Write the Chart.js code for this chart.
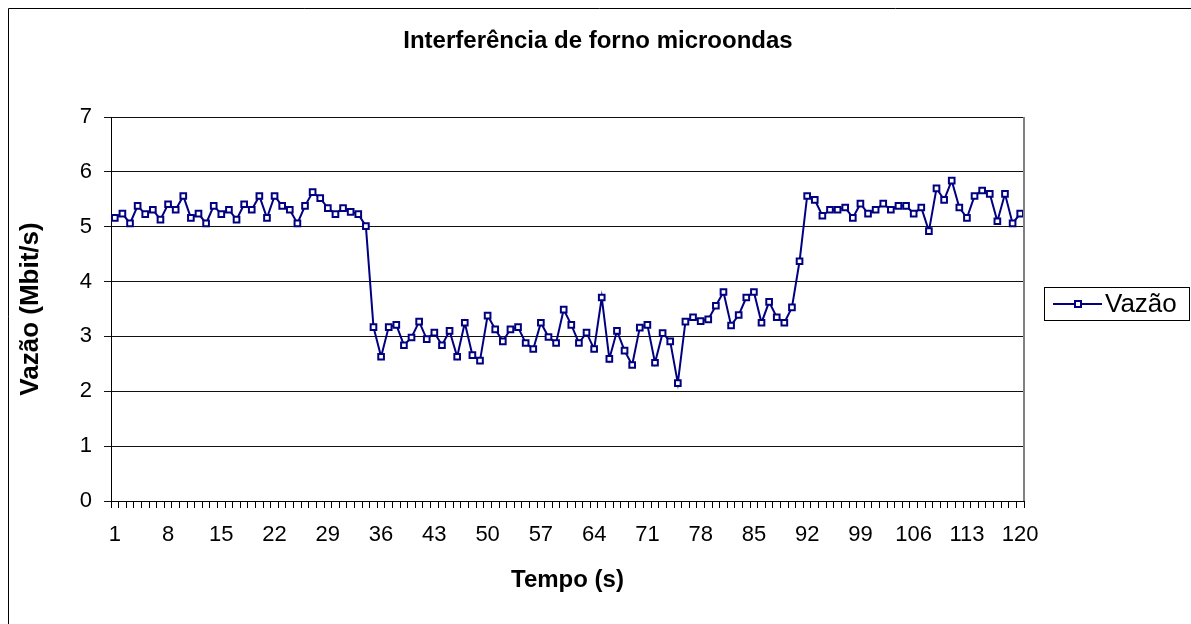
<!DOCTYPE html>
<html><head><meta charset="utf-8">
<script src="https://cdn.jsdelivr.net/npm/chart.js@4.4.1/dist/chart.umd.min.js"></script>
<style>html,body{margin:0;padding:0;background:#fff;} canvas{display:block;}</style>
</head><body>
<canvas id="c" width="1191" height="624"></canvas>
<script>
const chartTitle = "Interferência de forno microondas";
const seriesName = "Vazão";
const xAxisTitle = "Tempo (s)";
const yAxisTitle = "Vazão (Mbit/s)";

const categories = [1,2,3,4,5,6,7,8,9,10,11,12,13,14,15,16,17,18,19,20,
  21,22,23,24,25,26,27,28,29,30,31,32,33,34,35,36,37,38,39,40,
  41,42,43,44,45,46,47,48,49,50,51,52,53,54,55,56,57,58,59,60,
  61,62,63,64,65,66,67,68,69,70,71,72,73,74,75,76,77,78,79,80,
  81,82,83,84,85,86,87,88,89,90,91,92,93,94,95,96,97,98,99,100,
  101,102,103,104,105,106,107,108,109,110,111,112,113,114,115,116,117,118,119,120];

const vazao = [
  5.16,5.24,5.06,5.38,5.23,5.31,5.13,5.41,5.31,5.56,
  5.16,5.24,5.06,5.38,5.23,5.31,5.13,5.41,5.31,5.56,
  5.16,5.56,5.38,5.31,5.06,5.38,5.63,5.52,5.34,5.23,
  5.34,5.27,5.23,5.01,
  3.17,2.63,3.17,3.21,2.84,2.98,3.27,2.95,3.07,2.84,
  3.10,2.63,3.25,2.66,2.56,3.38,3.13,2.91,3.13,3.17,
  2.88,2.77,3.25,2.99,2.88,3.49,3.21,2.88,3.07,2.77,
  3.71,2.59,3.10,2.74,2.48,3.16,3.21,2.52,3.06,2.91,
  2.15,3.27,3.35,3.28,3.31,3.56,3.81,3.20,3.39,3.71,
  3.81,3.25,3.63,3.35,3.25,3.53,4.37,
  5.56,5.49,5.20,5.31,5.31,5.35,5.16,5.42,5.24,5.31,
  5.42,5.31,5.38,5.38,5.24,5.35,4.92,5.70,5.49,5.84,
  5.35,5.16,5.56,5.66,5.60,5.10,5.60,5.06,5.24
];

const xTickLabels = ["1","8","15","22","29","36","43","50","57","64","71","78","85","92","99","106","113","120"];
const yMin = 0, yMax = 7, yStep = 1;

const FONT = "'Liberation Sans', Arial, sans-serif";
const NAVY = '#000080';

const decor = {
  id: 'decor',
  afterDraw(chart) {
    const ctx = chart.ctx;
    const a = chart.chartArea;
    ctx.save();
    // outer frame
    ctx.strokeStyle = '#000';
    ctx.lineWidth = 1;
    ctx.beginPath();
    ctx.moveTo(8.5, 624);
    ctx.lineTo(8.5, 8.5);
    ctx.lineTo(1191, 8.5);
    ctx.stroke();
    // plot right border
    ctx.strokeStyle = '#808080';
    ctx.lineWidth = 2;
    ctx.beginPath();
    ctx.moveTo(a.right, a.top);
    ctx.lineTo(a.right, a.bottom);
    ctx.stroke();
    // title
    ctx.fillStyle = '#000';
    ctx.font = 'bold 24px ' + FONT;
    ctx.textAlign = 'center';
    ctx.textBaseline = 'middle';
    ctx.fillText(chartTitle, 598, 41);
    // legend
    const lx = 1044, ly = 287, lw = 145, lh = 33;
    ctx.strokeStyle = '#000';
    ctx.lineWidth = 1;
    ctx.strokeRect(lx + 0.5, ly + 0.5, lw, lh);
    const cy = ly + lh / 2 + 0.5;
    ctx.strokeStyle = NAVY;
    ctx.lineWidth = 2;
    ctx.beginPath();
    ctx.moveTo(lx + 9, cy);
    ctx.lineTo(lx + 58, cy);
    ctx.stroke();
    ctx.fillStyle = '#fff';
    ctx.lineWidth = 2;
    ctx.fillRect(lx + 31, cy - 3, 6, 6);
    ctx.strokeRect(lx + 31, cy - 3, 6, 6);
    ctx.fillStyle = '#000';
    ctx.font = '26px ' + FONT;
    ctx.textAlign = 'left';
    ctx.fillText(seriesName, lx + 61, cy + 1);
    ctx.restore();
  }
};

new Chart(document.getElementById('c'), {
  type: 'line',
  data: {
    labels: categories.map(String),
    datasets: [{
      label: seriesName,
      data: vazao,
      borderColor: NAVY,
      borderWidth: 2,
      tension: 0,
      pointStyle: 'rect',
      pointRadius: 4,
      pointBorderWidth: 2,
      pointBorderColor: NAVY,
      pointBackgroundColor: '#fff',
      fill: false
    }]
  },
  options: {
    responsive: false,
    animation: false,
    devicePixelRatio: 1,
    events: [],
    layout: { padding: { top: 117, right: 167, bottom: 0, left: 0 } },
    plugins: { legend: { display: false }, title: { display: false }, tooltip: { enabled: false } },
    scales: {
      x: {
        type: 'category',
        offset: true,
        grid: { display: true, offset: true, drawOnChartArea: false, drawTicks: true, tickLength: 7, color: '#000', lineWidth: 1 },
        border: { display: true, color: '#000', width: 1 },
        ticks: {
          autoSkip: false, maxRotation: 0, minRotation: 0, padding: 14,
          color: '#000', font: { family: FONT, size: 22 },
          callback: function(val, idx) {
            const l = String(categories[idx]);
            return xTickLabels.includes(l) ? l : '';
          }
        },
        title: { display: true, text: xAxisTitle, color: '#000', font: { family: FONT, size: 24, weight: 'bold' }, padding: { top: 0, bottom: 29 } },
        afterFit(scale) { scale.height = 123; }
      },
      y: {
        min: yMin, max: yMax,
        grid: { color: '#111', lineWidth: 1, tickLength: 7, drawTicks: true },
        border: { display: true, color: '#000', width: 1 },
        ticks: { stepSize: yStep, padding: 12, color: '#000', font: { family: FONT, size: 22 } },
        title: { display: true, text: yAxisTitle, color: '#000', font: { family: FONT, size: 26, weight: 'bold' }, padding: { top: 15, bottom: 0 } },
        afterFit(scale) { scale.width = 111; }
      }
    }
  },
  plugins: [decor]
});
</script>
</body></html>
